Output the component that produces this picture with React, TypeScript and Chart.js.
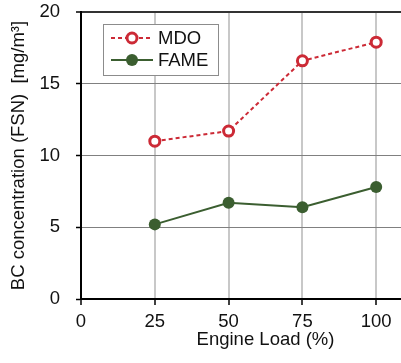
import { useEffect, useRef } from "react";
import { Chart, registerables } from "chart.js";

Chart.register(...registerables);

const engineLoad = [25, 50, 75, 100];
const mdoValues = [11.0, 11.7, 16.6, 17.9];
const fameValues = [5.2, 6.7, 6.4, 7.8];
const xTickValues = [0, 25, 50, 75, 100];
const yTickValues = [0, 5, 10, 15, 20];
const seriesNames = ["MDO", "FAME"];

const RED = "#cc2a36";
const GREEN = "#3b5e30";
const FAMILY = "'Liberation Sans', Arial, sans-serif";

const legendPlugin = {
  id: "boxLegend",
  afterDraw(chart: any) {
    const ctx = chart.ctx as CanvasRenderingContext2D;
    ctx.save();
    const bx = 103.5, by = 24.5, bw = 115, bh = 51;
    ctx.fillStyle = "#ffffff";
    ctx.fillRect(bx, by, bw, bh);
    ctx.strokeStyle = "#8c8c8c";
    ctx.lineWidth = 1;
    ctx.strokeRect(bx, by, bw, bh);
    chart.data.datasets.forEach((ds: any, i: number) => {
      const y = 38 + i * 22;
      ctx.strokeStyle = ds.borderColor;
      ctx.lineWidth = ds.borderWidth;
      ctx.setLineDash(ds.borderDash || []);
      ctx.beginPath();
      ctx.moveTo(111, y);
      ctx.lineTo(153, y);
      ctx.stroke();
      ctx.setLineDash([]);
      ctx.beginPath();
      ctx.arc(132, y, ds.pointRadius, 0, Math.PI * 2);
      ctx.fillStyle = ds.pointBackgroundColor;
      ctx.fill();
      if (ds.pointBorderWidth > 0) {
        ctx.lineWidth = ds.pointBorderWidth;
        ctx.strokeStyle = ds.pointBorderColor;
        ctx.stroke();
      }
      ctx.fillStyle = "#111";
      ctx.font = `18.5px ${FAMILY}`;
      ctx.textBaseline = "middle";
      ctx.textAlign = "left";
      ctx.fillText(ds.label, 158, y + 1);
    });
    ctx.restore();
  },
};

export default function App() {
  const ref = useRef<HTMLCanvasElement | null>(null);
  useEffect(() => {
    if (!ref.current) return;
    const chart = new Chart(ref.current, {
      type: "line",
      data: {
        datasets: [
          {
            label: seriesNames[0],
            data: engineLoad.map((x, i) => ({ x, y: mdoValues[i] })),
            borderColor: RED,
            borderWidth: 2,
            borderDash: [4, 3],
            pointRadius: 5,
            pointBorderWidth: 3,
            pointBorderColor: RED,
            pointBackgroundColor: "#ffffff",
            fill: false,
          },
          {
            label: seriesNames[1],
            data: engineLoad.map((x, i) => ({ x, y: fameValues[i] })),
            borderColor: GREEN,
            borderWidth: 2,
            pointRadius: 6,
            pointBorderWidth: 0,
            pointBorderColor: GREEN,
            pointBackgroundColor: GREEN,
            fill: false,
          },
        ],
      },
      options: {
        animation: false,
        responsive: false,
        devicePixelRatio: 1,
        layout: { padding: { top: 12, left: 0, right: 0, bottom: 0 } },
        plugins: { legend: { display: false }, tooltip: { enabled: false } },
        scales: {
          x: {
            type: "linear",
            min: 0,
            max: 125,
            afterBuildTicks: (s: any) => {
              s.ticks = xTickValues.map((v) => ({ value: v }));
            },
            afterFit: (s: any) => {
              s.height = 64;
              s.paddingLeft = 0;
              s.paddingRight = 0;
              s.paddingTop = 0;
              s.paddingBottom = 0;
            },
            grid: {
              color: (c: any) => (c.tick && c.tick.value === 0 ? "rgba(0,0,0,0)" : "#c8c8c8"),
              lineWidth: 2,
              tickColor: "#000",
              tickLength: 6,
              tickWidth: 1.5,
            },
            border: { color: "#000", width: 2 },
            ticks: { font: { size: 18.5, family: FAMILY }, color: "#111", padding: 6 },
            title: {
              display: true,
              text: "Engine Load (%)",
              font: { size: 18.5, family: FAMILY },
              color: "#111",
              padding: { top: 0, bottom: 12 },
            },
          },
          y: {
            type: "linear",
            min: 0,
            max: 20,
            afterBuildTicks: (s: any) => {
              s.ticks = yTickValues.map((v) => ({ value: v }));
            },
            afterFit: (s: any) => {
              s.width = 81;
              s.paddingLeft = 0;
              s.paddingRight = 0;
              s.paddingTop = 0;
              s.paddingBottom = 0;
            },
            grid: {
              color: (c: any) => (c.tick && c.tick.value === 20 ? "#333" : "#808080"),
              lineWidth: (c: any) => (c.tick && c.tick.value === 20 ? 2 : 1),
              tickColor: "#000",
              tickLength: 5,
              tickWidth: 1.5,
            },
            border: { color: "#000", width: 2 },
            ticks: { font: { size: 18.5, family: FAMILY }, color: "#111", padding: 16 },
            title: {
              display: true,
              text: "BC concentration (FSN)  [mg/m³]",
              font: { size: 18.5, family: FAMILY },
              color: "#111",
              padding: { top: 8, bottom: 0 },
            },
          },
        },
      },
      plugins: [legendPlugin],
    } as any);
    return () => chart.destroy();
  }, []);
  return (
    <div
      style={{
        position: "fixed",
        left: 0,
        top: 0,
        width: 401,
        height: 363,
        overflow: "hidden",
        background: "#fff",
      }}
    >
      <canvas ref={ref} width={458} height={363} style={{ width: 458, height: 363, display: "block" }} />
    </div>
  );
}
